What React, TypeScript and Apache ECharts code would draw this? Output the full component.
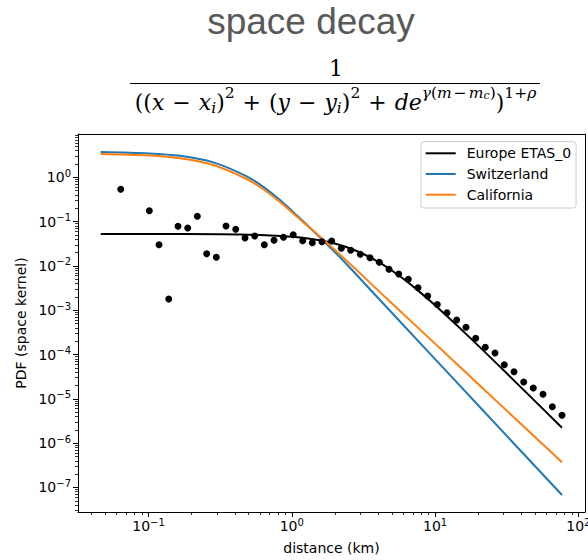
import { useEffect, useRef } from 'react';
import * as echarts from 'echarts';

// Binned observations: distance (km) and empirical PDF
const distanceKm = [
  0.064, 0.1013, 0.1184, 0.1384, 0.1606, 0.1877, 0.2191, 0.2547, 0.2972, 0.3474,
  0.406, 0.4714, 0.5509, 0.6428, 0.7511, 0.875, 1.023, 1.191, 1.39, 1.624,
  1.898, 2.215, 2.576, 3.006, 3.513, 4.079, 4.768, 5.572, 6.501, 7.598,
  8.878, 10.36, 12.11, 14.15, 16.43, 19.2, 22.4, 26.18, 30.4, 35.53,
  41.53, 48.45, 56.62, 65.77, 76.85,
];
const observedPdf = [
  0.536, 0.1762, 0.0301, 0.00179, 0.0783, 0.0717, 0.1317, 0.01886, 0.01563, 0.0796,
  0.067, 0.0426, 0.0473, 0.0301, 0.0378, 0.0445, 0.0504, 0.037, 0.0334, 0.0352,
  0.0365, 0.025, 0.0225, 0.0183, 0.0153, 0.01206, 0.00838, 0.00657, 0.00498, 0.00322,
  0.00209, 0.001345, 0.000878, 0.000601, 0.000411, 0.000232, 0.0001454, 0.0001081, 5.89e-5, 4.09e-5,
  2.39e-5, 1.752e-5, 1.263e-5, 6.63e-6, 4.24e-6,
];

// Space kernels
const europeDistance = [0.04638, 0.1, 0.3162, 0.6, 1, 1.334, 1.778, 2.371, 3.162, 4.217, 5.623, 7.499, 10, 17.78, 31.62, 76.85];
const europePdf = [0.05247, 0.0524, 0.05172, 0.04981, 0.04563, 0.04123, 0.03497, 0.02704, 0.01858, 0.01121, 0.005976, 0.002881, 0.001291, 0.0002287, 3.763e-5, 2.227e-6];

const switzerlandDistance = [0.0464, 0.1, 0.1659, 0.2833, 0.4845, 0.6326, 0.8274, 1.082, 1.4125, 2.17, 4.06, 15, 30, 76.85];
const switzerlandPdf = [3.725, 3.464, 3.057, 2.169, 1.053, 0.6071, 0.3057, 0.1387, 0.06135, 0.01563, 0.001789, 1.935e-5, 1.753e-6, 6.73e-8];

const californiaDistance = [0.0464, 0.1, 0.1659, 0.2833, 0.4845, 0.6326, 0.8274, 1.082, 1.4125, 2.17, 4.714, 15, 30, 76.85];
const californiaPdf = [3.357, 3.105, 2.699, 1.895, 0.9155, 0.5387, 0.277, 0.1303, 0.06232, 0.01799, 0.001699, 5.164e-5, 6.33e-6, 3.686e-7];

const seriesNames = ['Europe ETAS_0', 'Switzerland', 'California'];
const seriesColors = ['#000000', '#1f77b4', '#ff7f0e'];

const xMajorTicks = [0.1, 1, 10, 100];
const yMajorTicks = [1, 0.1, 0.01, 0.001, 1e-4, 1e-5, 1e-6, 1e-7];
const xExtent = [0.0322, 111.2];
const yExtent = [2.79e-8, 9.49];

const pairs = (xs: number[], ys: number[]) => xs.map((x, i) => [x, ys[i]]);

// 2..9 x 10^k ticks inside a range
const minorTicks = (lo: number, hi: number) => {
  const out: number[] = [];
  for (let e = Math.floor(Math.log10(lo)); e <= Math.ceil(Math.log10(hi)); e++) {
    for (let m = 2; m <= 9; m++) {
      const v = m * Math.pow(10, e);
      if (v >= lo && v <= hi) out.push(v);
    }
  }
  return out;
};

const powerLabel = (v: number) => {
  const e = Math.round(Math.log10(v));
  return `{b|10}{s|${e < 0 ? '\u2212' + -e : e}}`;
};

const tickFont = 'DejaVu Sans';
const tickRich = {
  b: { fontFamily: tickFont, fontSize: 14, lineHeight: 14, verticalAlign: 'bottom', color: '#000' },
  s: { fontFamily: tickFont, fontSize: 10, lineHeight: 10, verticalAlign: 'bottom', padding: [0, 0, 6, 0], color: '#000' },
};

// Formula typography: main size, scripts and script-of-script
const mathFont = 'DejaVu Serif';
const mainSize = 22;
const supSize = 15.5;
const subSupSize = 11;
const mk = (size: number, italic: boolean, padBottom: number, padSide = 0) => ({
  fontFamily: mathFont,
  fontStyle: italic ? 'italic' : 'normal',
  fontSize: size,
  lineHeight: size,
  verticalAlign: 'bottom',
  padding: [0, padSide, padBottom, padSide],
  fill: '#000',
});
const mathRich = {
  n: mk(mainSize, false, 3),
  i: mk(mainSize, true, 3),
  op: mk(mainSize, false, 3, 8),
  sb: mk(supSize, true, 1.2),
  sp: mk(supSize, false, 16.2),
  spo: mk(supSize, false, 16.2, 2),
  spi: mk(supSize, true, 16.2),
  ss: mk(subSupSize, true, 15.6),
};

const denominator =
  '{n|((}{i|x}{op|\u2212}{i|x}{sb|i}{n|)}{sp|2}{op|+}{n|(}{i|y}{op|\u2212}{i|y}{sb|i}{n|)}{sp|2}' +
  '{op|+}{i|de}{spi|\u03b3}{sp|(}{spi|m}{spo|\u2212}{spi|m}{ss|c}{sp|)}{n|)}{sp|1+}{spi|\u03c1}';

const gridBox = { left: 78, top: 134, width: 507, height: 378 };
const spine = { color: '#000', width: 1 };

export default function App() {
  const ref = useRef<HTMLDivElement>(null);

  useEffect(() => {
    if (!ref.current) return;
    const chart = echarts.init(ref.current, null, { renderer: 'svg', width: 588, height: 560 });

    const logAxis = (extra: any) => ({
      type: 'log',
      logBase: 10,
      splitLine: { show: false },
      minorTick: { show: false },
      ...extra,
    });

    const lineSeries = (i: number, xs: number[], ys: number[]) => ({
      name: seriesNames[i],
      type: 'line',
      xAxisIndex: 0,
      yAxisIndex: 0,
      data: pairs(xs, ys),
      showSymbol: false,
      symbol: 'none',
      smooth: 0.3,
      lineStyle: { color: seriesColors[i], width: 2 },
      itemStyle: { color: seriesColors[i] },
      z: 2 + i,
    });

    chart.setOption({
      animation: false,
      backgroundColor: '#ffffff',
      grid: [
        { ...gridBox, containLabel: false, outerBoundsMode: 'none' },
        { ...gridBox, containLabel: false, outerBoundsMode: 'none' },
      ],
      xAxis: [
        logAxis({
          gridIndex: 0,
          position: 'bottom',
          min: xExtent[0],
          max: xExtent[1],
          axisLine: { show: true, onZero: false, lineStyle: spine },
          axisTick: { show: true, customValues: xMajorTicks, length: 5, lineStyle: spine },
          axisLabel: { show: true, customValues: xMajorTicks, formatter: powerLabel, margin: 7, rich: tickRich },
          name: 'distance (km)',
          nameLocation: 'middle',
          nameGap: 29,
          nameTextStyle: { fontFamily: tickFont, fontSize: 14, color: '#000' },
        }),
        logAxis({
          gridIndex: 0,
          position: 'top',
          min: xExtent[0],
          max: xExtent[1],
          axisLine: { show: true, onZero: false, lineStyle: spine },
          axisTick: { show: false },
          axisLabel: { show: false },
        }),
        logAxis({
          gridIndex: 1,
          position: 'bottom',
          min: xExtent[0],
          max: xExtent[1],
          axisLine: { show: false, onZero: false },
          axisTick: { show: true, customValues: minorTicks(xExtent[0], xExtent[1]), length: 3, lineStyle: { color: '#000', width: 0.8 } },
          axisLabel: { show: false },
        }),
      ],
      yAxis: [
        logAxis({
          gridIndex: 0,
          position: 'left',
          min: yExtent[0],
          max: yExtent[1],
          axisLine: { show: true, onZero: false, lineStyle: spine },
          axisTick: { show: true, customValues: yMajorTicks, length: 5, lineStyle: spine },
          axisLabel: { show: true, customValues: yMajorTicks, formatter: powerLabel, margin: 7, rich: tickRich },
          name: 'PDF (space kernel)',
          nameLocation: 'middle',
          nameGap: 50,
          nameTextStyle: { fontFamily: tickFont, fontSize: 14, color: '#000' },
        }),
        logAxis({
          gridIndex: 0,
          position: 'right',
          min: yExtent[0],
          max: yExtent[1],
          axisLine: { show: true, onZero: false, lineStyle: spine },
          axisTick: { show: false },
          axisLabel: { show: false },
        }),
        logAxis({
          gridIndex: 1,
          position: 'left',
          min: yExtent[0],
          max: yExtent[1],
          axisLine: { show: false, onZero: false },
          axisTick: { show: true, customValues: minorTicks(yExtent[0], yExtent[1]), length: 3, lineStyle: { color: '#000', width: 0.8 } },
          axisLabel: { show: false },
        }),
      ],
      legend: {
        data: seriesNames,
        orient: 'vertical',
        left: 421,
        top: 141.7,
        padding: [3.6, 5, 5.3, 4.7],
        itemWidth: 30,
        itemHeight: 2,
        itemGap: 4.7,
        icon: 'rect',
        selectedMode: false,
        backgroundColor: 'rgba(255,255,255,0.8)',
        borderColor: '#cccccc',
        borderWidth: 1,
        borderRadius: 3,
        textStyle: { fontFamily: tickFont, fontSize: 14, lineHeight: 16, color: '#000', padding: [0, 0, 0, 6] },
      },
      graphic: [
        {
          type: 'text',
          x: 311,
          y: 21.5,
          style: { text: 'space decay', font: '37px "Liberation Sans"', fill: '#595959', align: 'center', verticalAlign: 'middle' },
        },
        {
          type: 'text',
          x: 336,
          y: 68.3,
          style: { text: '1', font: `${mainSize}px "DejaVu Serif"`, fill: '#000', align: 'center', verticalAlign: 'middle' },
        },
        {
          type: 'line',
          shape: { x1: 130, y1: 83.5, x2: 540, y2: 83.5 },
          style: { stroke: '#000', lineWidth: 1.2 },
        },
        {
          type: 'text',
          x: 335.5,
          y: 94.8,
          style: { text: denominator, rich: mathRich, align: 'center', verticalAlign: 'top', fill: '#000' },
        },
      ],
      series: [
        lineSeries(0, europeDistance, europePdf),
        lineSeries(1, switzerlandDistance, switzerlandPdf),
        lineSeries(2, californiaDistance, californiaPdf),
        {
          name: 'observed',
          type: 'scatter',
          xAxisIndex: 0,
          yAxisIndex: 0,
          data: pairs(distanceKm, observedPdf),
          symbol: 'circle',
          symbolSize: 7,
          itemStyle: { color: '#000', opacity: 1 },
          z: 6,
        },
      ],
    });

    return () => chart.dispose();
  }, []);

  return <div ref={ref} style={{ position: 'absolute', left: 0, top: 0, width: 588, height: 560 }} />;
}
